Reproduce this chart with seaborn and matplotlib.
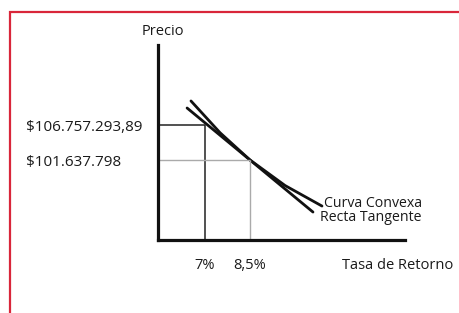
import numpy as np
import pandas as pd
import matplotlib
matplotlib.use('Agg')
import matplotlib.pyplot as plt
import seaborn as sns
from matplotlib.patches import Rectangle

# rate of return (%) and price (millions of $)
CURVE_RATE = [6.53, 7.5, 8.5, 9.67, 10.9]
CURVE_PRICE = [110.28, 105.63, 101.64, 97.9, 94.9]
TANGENT_RATE = [6.4, 10.6]
TANGENT_PRICE = [109.25, 94.02]

RATE_TICKS = [7.0, 8.5]
RATE_LABELS = ['7%', '8,5%']
PRICE_TICKS = [106.75729389, 101.637798]
PRICE_LABELS = ['$106.757.293,89', '$101.637.798']

XLIM = (5.43, 13.67)
YLIM = (89.93, 118.47)

sns.set_style('white')
plt.rcParams['font.family'] = ['Open Sans', 'DejaVu Sans']

fig = plt.figure(figsize=(4.6, 3.13), dpi=100)
ax = fig.add_axes([158/460, 1 - 240/313, 247/460, 195/313])

curve = pd.DataFrame({'rate': CURVE_RATE, 'price': CURVE_PRICE})
tangent = pd.DataFrame({'rate': TANGENT_RATE, 'price': TANGENT_PRICE})
sns.lineplot(data=curve, x='rate', y='price', ax=ax, color='#111111',
             linewidth=2.0, sort=False)
sns.lineplot(data=tangent, x='rate', y='price', ax=ax, color='#111111',
             linewidth=2.0, sort=False)

# guide lines to the axes
ax.hlines(PRICE_TICKS[0], XLIM[0], RATE_TICKS[0], color='#222222', lw=1.1)
ax.vlines(RATE_TICKS[0], YLIM[0], PRICE_TICKS[0], color='#222222', lw=1.1)
ax.hlines(PRICE_TICKS[1], XLIM[0], RATE_TICKS[1], color='#aaaaaa', lw=1.0)
ax.vlines(RATE_TICKS[1], YLIM[0], PRICE_TICKS[1], color='#aaaaaa', lw=1.0)

ax.set_xlim(*XLIM)
ax.set_ylim(*YLIM)

sns.despine(ax=ax)
for side in ['left', 'bottom']:
    ax.spines[side].set_linewidth(2.3)
    ax.spines[side].set_color('#111111')

ax.set_xticks(RATE_TICKS, RATE_LABELS)
ax.set_yticks(PRICE_TICKS, PRICE_LABELS)
ax.tick_params(axis='x', length=0, pad=13, labelsize=10.5, labelcolor='#1a1a1a')
ax.tick_params(axis='y', length=0, pad=95, labelsize=11, labelcolor='#1a1a1a')
for lab in ax.get_yticklabels():
    lab.set_horizontalalignment('left')

ax.set_xlabel('Tasa de Retorno', fontsize=10.5, color='#1a1a1a')
ax.xaxis.set_label_coords(0.972, -0.09)
ax.set_ylabel('Precio', fontsize=10.5, color='#1a1a1a', rotation=0)
ax.yaxis.set_label_coords(0.02, 1.03)

ax.text(10.97, 95.34, 'Curva Convexa', fontsize=10.2, color='#1a1a1a',
        va='center', ha='left')
ax.text(10.83, 93.29, 'Recta Tangente', fontsize=10.2, color='#1a1a1a',
        va='center', ha='left')

# red frame of the original screenshot
fig.add_artist(Rectangle((10/460, -0.2), 1.2, 1 - 12/313 + 0.2,
                         transform=fig.transFigure, fill=False,
                         edgecolor='#d9263a', linewidth=1.6))

fig.savefig('out.png', dpi=100)
